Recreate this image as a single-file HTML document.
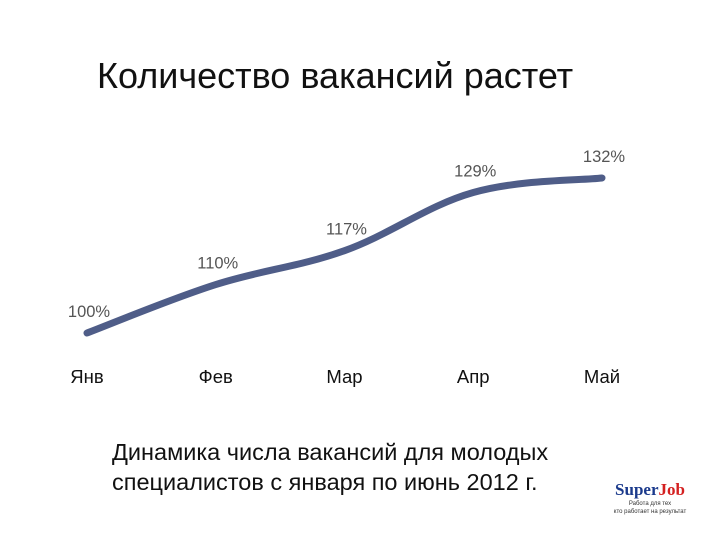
<!DOCTYPE html>
<html><head><meta charset="utf-8"><style>
body{margin:0;background:#fff;width:720px;height:540px;overflow:hidden;font-family:"Liberation Sans",sans-serif;}
</style></head><body>
<svg width="720" height="540">
<text x="97" y="88" font-size="36" fill="#111">Количество вакансий растет</text>
<g id="plot"></g>
<text x="112" y="460" font-size="23.5" fill="#111">Динамика числа вакансий для молодых</text>
<text x="112" y="490" font-size="23.5" fill="#111">специалистов с января по июнь 2012 г.</text>
<g>
<text x="650" y="495" font-size="17" font-weight="bold" font-family="Liberation Serif,serif" text-anchor="middle" fill="#1b3a8c">Super<tspan fill="#d42020">Job</tspan></text>
<text x="650" y="505" font-size="6" text-anchor="middle" fill="#333">Работа для тех</text>
<text x="650" y="513" font-size="6" text-anchor="middle" fill="#333">кто работает на результат</text>
</g>
</svg>
<script>
const categories=["Янв","Фев","Мар","Апр","Май"];
const values=[100,110,117,129,132];
const valueLabels=["100%","110%","117%","129%","132%"];
const NS="http://www.w3.org/2000/svg";
const g=document.getElementById('plot');
const x=i=>87+i*(602-87)/(categories.length-1);
const y=v=>333-(v-100)*155/32;
function mk(t,a){const e=document.createElementNS(NS,t);for(const k in a)e.setAttribute(k,a[k]);g.appendChild(e);return e;}
const P=values.map((v,i)=>[x(i),y(v)]);
let d="M"+P[0][0]+","+P[0][1];
for(let i=0;i<P.length-1;i++){const p0=P[Math.max(i-1,0)],p1=P[i],p2=P[i+1],p3=P[Math.min(i+2,P.length-1)];
const t=0.18;
d+=` C${p1[0]+(p2[0]-p0[0])*t},${p1[1]+(p2[1]-p0[1])*t} ${p2[0]-(p3[0]-p1[0])*t},${p2[1]-(p3[1]-p1[1])*t} ${p2[0]},${p2[1]}`;}
const line=mk('path',{d:d,fill:'none',stroke:'#4f5d88','stroke-width':7,'stroke-linecap':'round'});


values.forEach((v,i)=>{
const t=mk('text',{x:x(i)+2,y:y(v)-16,'font-size':16.5,fill:'#555','text-anchor':'middle'});
t.textContent=valueLabels[i];


const c=mk('text',{x:x(i),y:383,'font-size':18.5,fill:'#111','text-anchor':'middle'});
c.textContent=categories[i];


});
</script>
</body></html>
